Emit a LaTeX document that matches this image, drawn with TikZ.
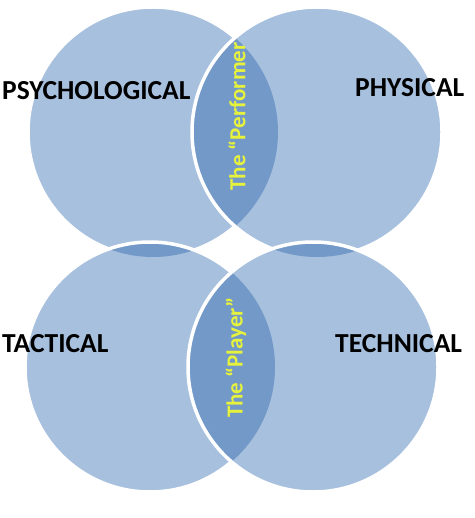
\documentclass[tikz,border=0pt]{standalone}
\usepackage{fontspec}
\setmainfont{Carlito}
\definecolor{lightc}{HTML}{A7C0DE}
\definecolor{darkc}{HTML}{7399C8}
\definecolor{yel}{HTML}{E6F23C}
\tikzset{
  ring/.style={white, line width=3.5pt},
  lbl/.style={font=\bfseries\fontsize{27.5}{31}\selectfont, text=black, inner sep=0pt},
  ylbl/.style={font=\bfseries\fontsize{23}{27}\selectfont, text=yel, inner sep=0pt, rotate=90}
}
\begin{document}
\begin{tikzpicture}[x=1pt,y=-1pt]
\useasboundingbox (0,0) rectangle (474,518);
\def\R{125pt}
\coordinate (TL) at (153,132);
\coordinate (TR) at (317,132);
\coordinate (BL) at (150,367);
\coordinate (BR) at (313,367);
% top-left
\fill[lightc] (TL) circle (\R);
\draw[ring] (TL) circle (\R);
% top-right
\fill[lightc] (TR) circle (\R);
\begin{scope}
  \clip (TL) circle (\R);
  \fill[darkc] (TR) circle (\R);
\end{scope}
\draw[ring] (TR) circle (\R);
% bottom-left
\fill[lightc] (BL) circle (\R);
\begin{scope}
  \clip (TL) circle (\R);
  \fill[darkc] (BL) circle (\R);
\end{scope}
\draw[ring] (BL) circle (\R);
% bottom-right
\fill[lightc] (BR) circle (\R);
\begin{scope}
  \clip (BL) circle (\R);
  \fill[darkc] (BR) circle (\R);
\end{scope}
\begin{scope}
  \clip (TR) circle (\R);
  \fill[darkc] (BR) circle (\R);
\end{scope}
\draw[ring] (BR) circle (\R);
% labels
\node[lbl, anchor=base west] (psy) at (2,100) {PSYCHOLOGICAL};
\node[lbl, anchor=base west] (phy) at (355,97) {PHYSICAL};
\node[lbl, anchor=base west] (tac) at (2,352) {TACTICAL};
\node[lbl, anchor=base west] (tec) at (335,352) {TECHNICAL};
\node[ylbl] (perf) at (237,116.5) {The “Performer};
\node[ylbl] (play) at (236,357.5) {The “Player”};
\end{tikzpicture}
\end{document}
